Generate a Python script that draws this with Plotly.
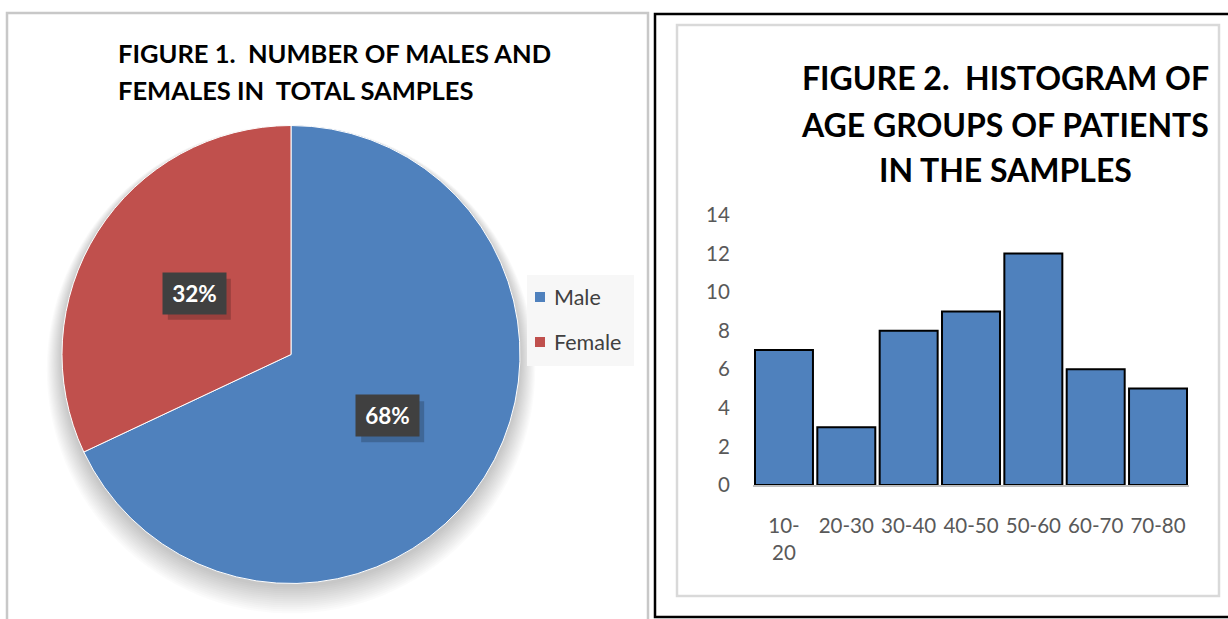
import math
import plotly.graph_objects as go

# ---- data ----
sex_labels = ["Male", "Female"]
sex_percent = [68, 32]
sex_colors = ["#4F81BD", "#C0504D"]

age_groups = ["10-<br>20", "20-30", "30-40", "40-50", "50-60", "60-70", "70-80"]
age_counts = [7, 3, 8, 9, 12, 6, 5]
y_ticks = [0, 2, 4, 6, 8, 10, 12, 14]

W, H = 1228, 619
FONT = "Lato"


def px(x):
    return x / W


def py(y):
    return 1 - y / H


fig = go.Figure()

# ---- pie (figure 1) ----
cx, cy, r = 291, 354.5, 229
fig.add_trace(go.Pie(
    labels=sex_labels,
    values=sex_percent,
    sort=False,
    direction="clockwise",
    rotation=0,
    marker=dict(colors=sex_colors, line=dict(color="white", width=1)),
    textinfo="none",
    hoverinfo="label+percent",
    domain=dict(x=[px(cx - r), px(cx + r)], y=[py(cy + r), py(cy - r)]),
    showlegend=False,
))

# ---- histogram (figure 2) ----
fig.add_trace(go.Bar(
    x=age_groups,
    y=age_counts,
    marker=dict(color="#4F81BD", line=dict(color="black", width=2)),
    showlegend=False,
    xaxis="x",
    yaxis="y",
))

shapes = []

# panel frames
shapes.append(dict(type="rect", xref="paper", yref="paper",
                   x0=px(7), x1=px(648), y0=py(640), y1=py(13),
                   line=dict(color="#c8c8c8", width=2.5), fillcolor="rgba(0,0,0,0)", layer="below"))
shapes.append(dict(type="rect", xref="paper", yref="paper",
                   x0=px(655), x1=px(1240), y0=py(617), y1=py(14),
                   line=dict(color="black", width=2.5), fillcolor="rgba(0,0,0,0)", layer="below"))
shapes.append(dict(type="rect", xref="paper", yref="paper",
                   x0=px(677), x1=px(1219), y0=py(596), y1=py(25),
                   line=dict(color="#d9d9d9", width=2.5), fillcolor="rgba(0,0,0,0)", layer="below"))

# soft drop shadow under the pie, weighted downward
for k in range(14):
    e = 1 + k * 1.1
    d = 3 + k * 0.9
    rr = r + e
    sy = cy + d
    shapes.append(dict(type="circle", xref="paper", yref="paper",
                       x0=px(cx - rr), x1=px(cx + rr), y0=py(sy + rr), y1=py(sy - rr),
                       line=dict(width=0), fillcolor="rgba(0,0,0,0.014)", layer="below"))

# legend box for the pie
shapes.append(dict(type="rect", xref="paper", yref="paper",
                   x0=px(527), x1=px(634), y0=py(366), y1=py(275),
                   line=dict(width=0), fillcolor="#f7f7f7", layer="below"))

annotations = []

legend_y = [297, 342]
for lab, col, ly in zip(sex_labels, sex_colors, legend_y):
    shapes.append(dict(type="rect", xref="paper", yref="paper",
                       x0=px(535), x1=px(545), y0=py(ly + 5), y1=py(ly - 5),
                       line=dict(width=0), fillcolor=col))
    annotations.append(dict(x=px(552), y=py(ly), xref="paper", yref="paper",
                            text=lab, showarrow=False, xanchor="left", yanchor="middle",
                            font=dict(family=FONT, size=21.5, color="#404040")))

# percentage labels placed at half radius along each slice's mid-angle
total = sum(sex_percent)
start = 0.0
for lab, val in zip(sex_labels, sex_percent):
    frac = val / total
    mid = (start + frac / 2) * 2 * math.pi
    start += frac
    lx = cx + 0.5 * r * math.sin(mid)
    ly = cy - 0.5 * r * math.cos(mid)
    bw, bh = 63, 41
    shapes.append(dict(type="rect", xref="paper", yref="paper",
                       x0=px(lx - bw / 2 + 5), x1=px(lx + bw / 2 + 5),
                       y0=py(ly + bh / 2 + 6), y1=py(ly - bh / 2 + 6),
                       line=dict(width=0), fillcolor="rgba(0,0,0,0.2)"))
    annotations.append(dict(
        x=px(lx), y=py(ly), xref="paper", yref="paper",
        text=f"<b>{val}%</b>", showarrow=False,
        font=dict(family=FONT, size=22.5, color="white"),
        bgcolor="#404040", width=bw - 2, height=bh - 2, align="center", valign="middle",
        xanchor="center", yanchor="middle",
    ))

# titles
for txt, yy in [("FIGURE 1.  NUMBER OF MALES AND", 53), ("FEMALES IN  TOTAL SAMPLES", 90)]:
    annotations.append(dict(x=px(116), y=py(yy), xref="paper", yref="paper",
                            text=f"<b>{txt}</b>", showarrow=False,
                            xanchor="left", yanchor="middle",
                            font=dict(family=FONT, size=25.5, color="black")))

for txt, yy in [("FIGURE 2.  HISTOGRAM OF", 78), ("AGE GROUPS OF PATIENTS", 124), ("IN THE SAMPLES", 170)]:
    annotations.append(dict(x=px(1005), y=py(yy), xref="paper", yref="paper",
                            text=f"<b>{txt}</b>", showarrow=False,
                            xanchor="center", yanchor="middle",
                            font=dict(family=FONT, size=32, color="black")))

fig.update_layout(
    width=W, height=H,
    margin=dict(l=0, r=0, t=0, b=0, pad=0, autoexpand=False),
    paper_bgcolor="white",
    plot_bgcolor="white",
    shapes=shapes,
    annotations=annotations,
    bargap=0.07,
    showlegend=False,
    xaxis=dict(
        domain=[px(752.8), px(1189.2)],
        anchor="y",
        showline=True, linecolor="#bfbfbf", linewidth=1.5,
        showgrid=False, ticks="",
        tickfont=dict(family=FONT, size=20.5, color="#595959"),
        ticklabelstandoff=22,
        fixedrange=True,
    ),
    yaxis=dict(
        domain=[py(485), py(215)],
        anchor="x",
        range=[0, 14],
        tickvals=y_ticks,
        showgrid=False, showline=False, zeroline=False, ticks="",
        tickfont=dict(family=FONT, size=20.5, color="#595959"),
        ticklabelstandoff=22,
        fixedrange=True,
    ),
)

fig.write_html("out.html")
